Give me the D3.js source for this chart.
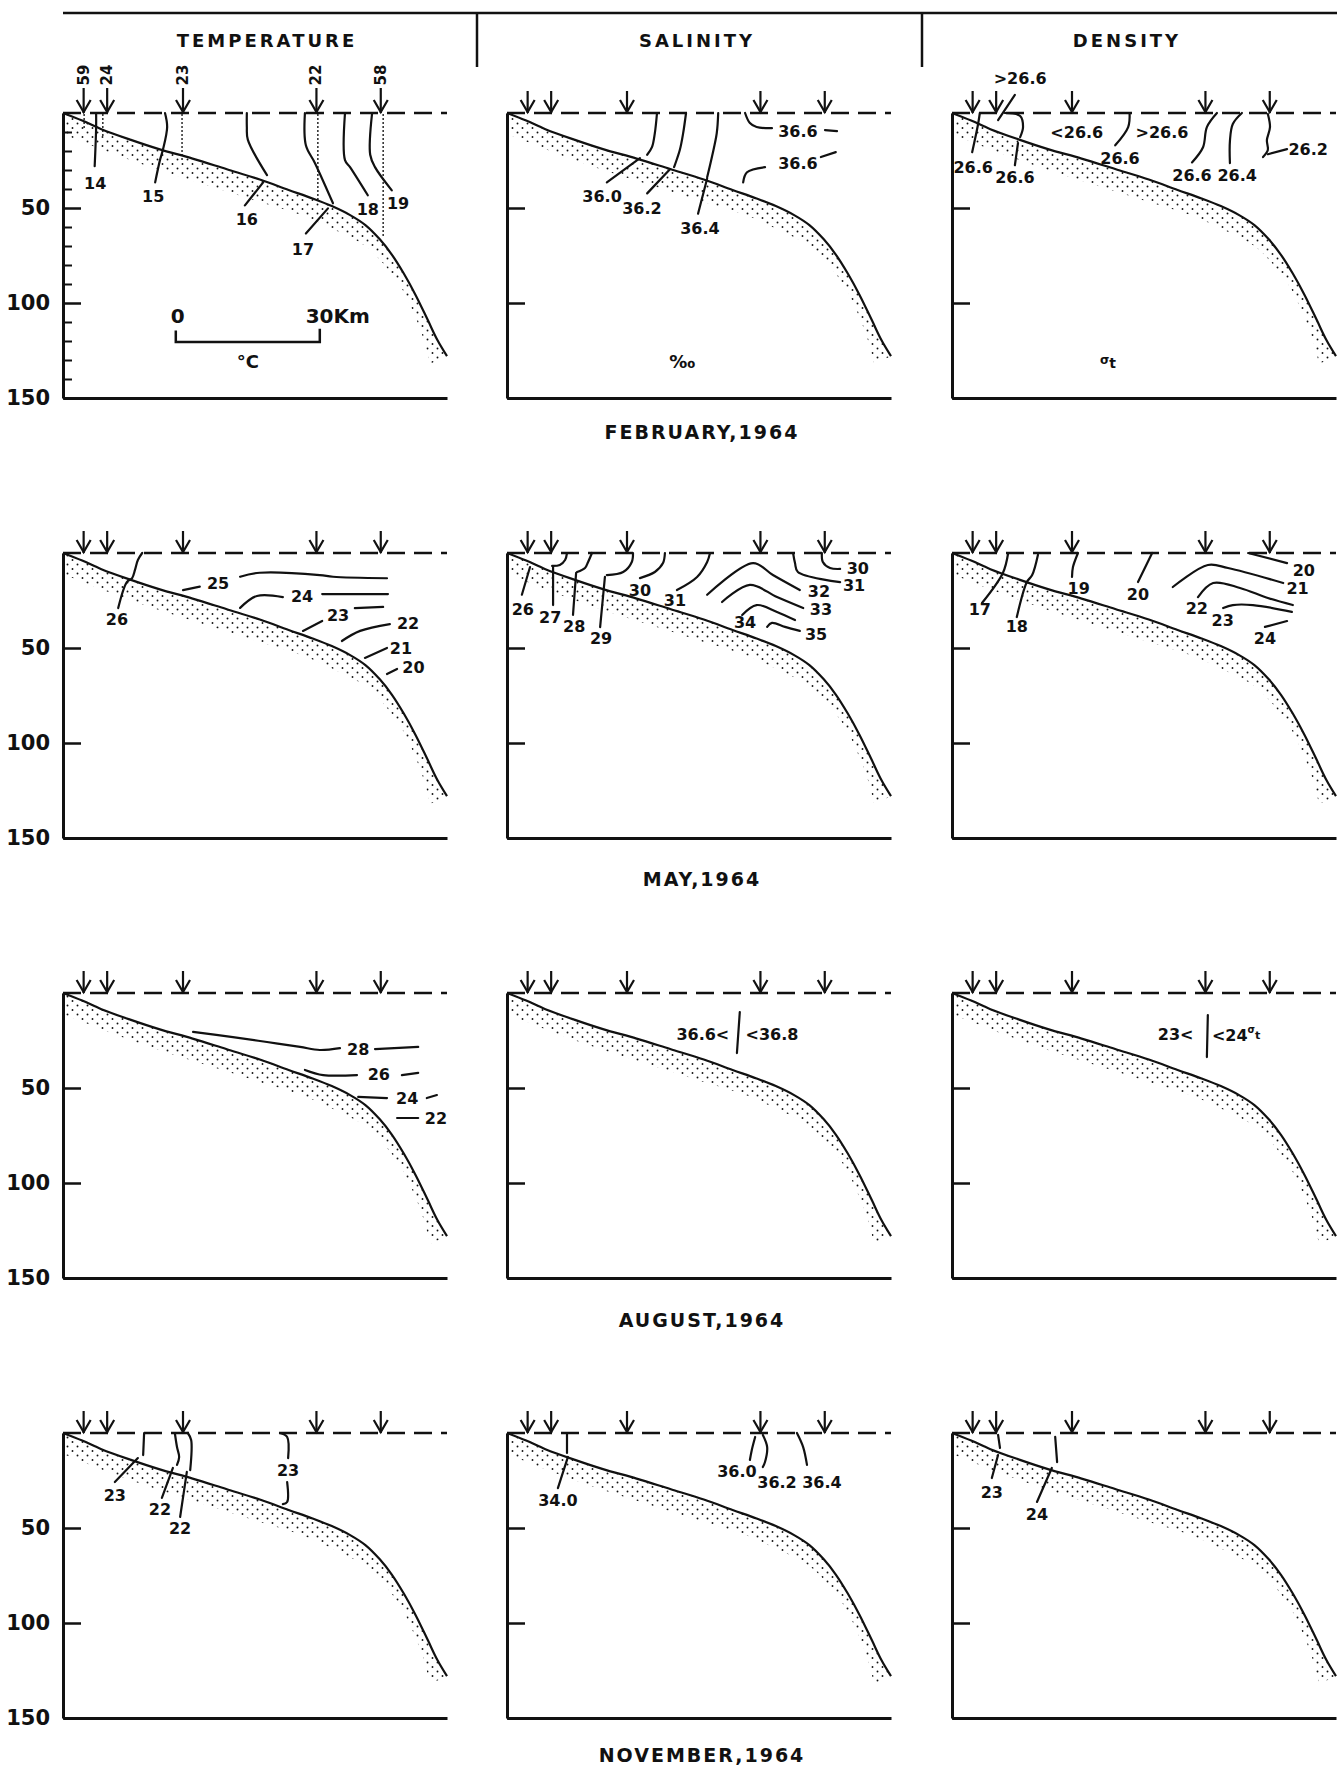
<!DOCTYPE html>
<html><head><meta charset="utf-8">
<script src="https://cdn.jsdelivr.net/npm/d3@7"></script>
<style>
body{margin:0;background:#fff;}
svg{display:block;background:#fff;}
text{font-family:"DejaVu Sans",sans-serif;font-weight:bold;fill:#111;}
</style></head><body>
<svg id="c" width="1337" height="1767"></svg>
<script>
// ---------------- DATA ----------------
const columns = ["TEMPERATURE", "SALINITY", "DENSITY"];
const months = ["FEBRUARY,1964", "MAY,1964", "AUGUST,1964", "NOVEMBER,1964"];
const depthTicks = [50, 100, 150];
const minorDepthTicks = [10, 20, 30, 40, 60, 70, 80, 90, 110, 120, 130, 140];
const stationKm = [4.3, 9.2, 25, 52.8, 66.2];
const stationIds = ["59", "24", "23", "22", "58"];
// bottom profile (km offshore, depth m)
const bottomProfile = [[0,0],[4,4],[8,8.5],[14,14],[20,19],[27,24],[34,29.5],[41,35],[47,40.5],[52,45],[56,49],[60,54],[63,59],[66,66.5],[68.5,74.5],[71,84.5],[73.5,96],[76,109],[78,119.5],[80,128]];
// lower edge of the stippled sediment band (from deep end back to shore)
const stippleEdge = [[76.5,132],[75,118],[73,105],[70.5,92],[67,80],[63,70],[57,62],[50,54],[40,46],[30,38],[20,30],[10,21],[0,11]];
// dotted hydrographic casts, February (km, max depth m)
const febTempCasts = [[4.4,9],[8.3,11.6],[24.8,24.8],[53.1,46],[66.7,65.5]];
const scaleBarKm = [23.5, 53.5];

// isolines: label, line pieces [[km,m],...], label position [km,m]
const febTemp = [
  {v:"14", lines:[[[6.9,0],[6.9,8],[6.6,28]]], at:[6.7,37]},
  {v:"15", lines:[[[21.25,0],[21.7,7.4],[20.8,19.5],[20.2,24.8],[19.2,36.5]]], at:[18.8,44]},
  {v:"16", lines:[[[38.3,0],[38.3,7.4],[38.5,14],[42.5,32.7]],[[41.7,36.5],[37.9,48.6]]], at:[38.3,56]},
  {v:"17", lines:[[[50.4,0],[50.6,17],[52.5,26.4],[56.25,47.5]],[[55.2,50.2],[50.6,63.4]]], at:[50,72]},
  {v:"18", lines:[[[58.75,0],[58.75,24.8],[59.8,28.5],[63.5,43.3]]], at:[63.5,51]},
  {v:"19", lines:[[[64.4,0],[64,22],[65,28.5],[68.5,40.7]]], at:[69.8,47.5]}
];
const febSal = [
  {v:"36.0", lines:[[[31.25,0],[30.8,10.6],[30.2,18],[29.2,22]],[[27.7,23.8],[20.8,36.5]]], at:[19.8,44]},
  {v:"36.2", lines:[[[37.3,0],[36.7,10.6],[36,19.5],[34.8,28.5]],[[34,29.5],[29.2,42.3]]], at:[28.1,50.5]},
  {v:"36.4", lines:[[[44,0],[43.7,10.6],[42.7,23],[41.7,33.8]],[[41.7,34.5],[39.8,53]]], at:[40.2,61]},
  {v:"36.6", lines:[[[49.6,0],[50.6,5.3],[52,7.4],[55.2,8]],[[66.25,9],[68.75,9.5]]], at:[60.6,9.5]},
  {v:"36.6", lines:[[[49.2,36.5],[50,31.2],[53.75,28.5]],[[65.4,23.2],[68.5,20.6]]], at:[60.6,26.4]}
];
const febDens = [
  {v:">26.6", lines:[[[13.1,-9.5],[9.6,3.7]]], at:[14.2,-18.4]},
  {v:"26.6", lines:[[[5.8,0],[5.4,6.3],[4.2,20.6]]], at:[4.4,28.5]},
  {v:"26.6", lines:[[[11,0],[14.2,1.6],[14.8,7.4],[14.2,12.7]],[[13.75,15.8],[13.1,27.5]]], at:[13.1,34]},
  {v:"<26.6", lines:[], at:[26,10]},
  {v:">26.6", lines:[], at:[43.75,10]},
  {v:"26.6", lines:[[[37,0],[36.7,7.4],[34,17]]], at:[35,24]},
  {v:"26.6", lines:[[[55.2,0],[53.1,7.4],[52.3,18],[50,26]]], at:[50,33]},
  {v:"26.4", lines:[[[60.4,0],[58.5,5.8],[57.9,14.8],[57.9,26.4]]], at:[59.4,33]},
  {v:"26.2", lines:[[[65.8,0.5],[66.25,7.4],[65.6,14.3],[65.8,19.5],[64.8,23.2]],[[65.8,21.7],[69.8,19]]], at:[74.2,19]}
];
const mayTemp = [
  {v:"26", lines:[[[16.5,0],[15.6,3.7],[15,8.9],[14.4,13.2],[13.3,15.3],[11.5,29]]], at:[11.25,35]},
  {v:"25", lines:[[[25,19.5],[28.5,17.7]],[[36.9,12.5],[41,10.4],[53.5,11.6],[56.25,12.5],[67.5,13.3]]], at:[32.3,16.3]},
  {v:"24", lines:[[[36.9,28.9],[40.4,22.6],[45.8,23.2]],[[54,21.6],[67.7,21.6]]], at:[49.8,23]},
  {v:"23", lines:[[[50,41],[54,35.8]],[[60.8,29],[66.7,28.4]]], at:[57.3,33]},
  {v:"22", lines:[[[58.1,46.3],[61.9,41],[68.1,37.4]]], at:[71.9,37]},
  {v:"21", lines:[[[62.9,55.2],[67.5,50]]], at:[70.4,50]},
  {v:"20", lines:[[[67.5,63.7],[69.6,61]]], at:[73,60.5]}
];
const maySal = [
  {v:"26", lines:[[[4.8,7.4],[3.1,22]]], at:[3.3,29.5]},
  {v:"27", lines:[[[12.5,0],[12.1,3.7],[11,6.3],[9.4,6.8]],[[9.6,7.4],[9.6,27.4]]], at:[9,34]},
  {v:"28", lines:[[[17.7,0],[16.9,4.7],[16.25,7.9],[14.6,10]],[[14.4,10.5],[13.75,32.6]]], at:[14,38.5]},
  {v:"29", lines:[[[26.25,0],[26,4.7],[24.2,10],[20.8,11.6]],[[20.4,12.6],[19.4,39]]], at:[19.6,45]},
  {v:"30", lines:[[[32.9,0],[32.5,5.3],[30.8,10],[27.7,13.2]]], at:[27.7,19.5]},
  {v:"31", lines:[[[42.3,0],[41.7,4.7],[39.6,12.6],[35.4,19.5]]], at:[35,25]},
  {v:"32", lines:[[[41.7,22],[51.25,5.3],[55.4,11.6],[61,19.5]]], at:[65,20.5]},
  {v:"33", lines:[[[44.8,25.8],[50.6,16.8],[56.25,23.2],[61.7,29]]], at:[65.4,29.5]},
  {v:"34", lines:[[[49,32.6],[52,27.4],[56.25,31],[60,35.3]]], at:[49.6,36.5]},
  {v:"35", lines:[[[54.2,38.9],[55.2,36.8],[57.9,38.9],[61,41]]], at:[64.4,43]},
  {v:"30", lines:[[[65.6,0],[65.8,4.7],[67.3,7.9],[69.4,8.4]]], at:[73.1,8]},
  {v:"31", lines:[[[59.6,0],[60,5.3],[60.6,10],[69.4,15.3]]], at:[72.3,17]}
];
const mayDens = [
  {v:"17", lines:[[[11.7,0],[10.6,10.5],[6.25,26.3]]], at:[5.8,29.5]},
  {v:"18", lines:[[[17.9,1],[16.7,11.6],[15.6,15.3],[13.5,33.7]]], at:[13.5,38.5]},
  {v:"19", lines:[[[26.25,0],[25.2,7.4],[25,12.6]]], at:[26.4,18.5]},
  {v:"20", lines:[[[41.7,0],[38.75,15.3]]], at:[38.75,22]},
  {v:"20", lines:[[[61.7,0],[69.8,5.3]]], at:[73.3,9]},
  {v:"21", lines:[[[46,17.9],[53.3,6.3],[57.5,7.9],[69,15.8]]], at:[72,18.5]},
  {v:"22", lines:[[[51.25,23.2],[54.4,15.8],[60,18.4],[65.8,23.7],[71,27.4]]], at:[51,29]},
  {v:"23", lines:[[[56.5,29],[58.5,27.4],[62.7,27.4],[70.8,31]]], at:[56.4,35.5]},
  {v:"24", lines:[[[65.2,38.9],[69.8,35.8]]], at:[65.2,45]}
];
const augTemp = [
  {v:"28", lines:[[[27.1,20.5],[35.4,23.2],[42.5,25.8],[49.4,28.4],[53.5,30],[57.7,29]],[[65,29.5],[74,28.4]]], at:[61.5,29.5]},
  {v:"26", lines:[[[50.4,40.5],[54.2,43.2],[61.25,43.2]],[[70.6,43.2],[74,42]]], at:[65.8,43]},
  {v:"24", lines:[[[61.5,54.7],[67.5,55.3]],[[75.8,55.3],[77.9,53.7]]], at:[71.7,55.3]},
  {v:"22", lines:[[[69.6,65.8],[74,65.8]]], at:[77.7,66.3]}
];
const augSal = [
  {v:"36.6<", lines:[], at:[40.8,22]},
  {v:"", lines:[[[48.5,10],[47.9,31.6]]], at:null},
  {v:"<36.8", lines:[], at:[55.2,22]}
];
const augDens = [
  {v:"23<", lines:[], at:[46.6,22]},
  {v:"", lines:[[[53.3,11.6],[53.1,33.7]]], at:null},
  {v:"<24", lines:[], at:[59.2,22], sigma:true}
];
const novTemp = [
  {v:"23", lines:[[[16.9,0],[16.7,11.6]],[[15.6,13.2],[10.8,25.8]]], at:[10.8,33]},
  {v:"22", lines:[[[23.3,0],[23.75,7.4],[24.2,12.6],[23.75,16.8]],[[22.9,18.4],[20.6,34.2]]], at:[20.2,40]},
  {v:"22", lines:[[[26,0],[26.7,3.7],[26.5,19.5]],[[25.8,20.5],[24.4,44.2]]], at:[24.4,50]},
  {v:"23", lines:[[[45.2,0],[46.7,2.1],[46.9,13.2]],[[46.7,25.8],[46.7,36.3],[45.8,37.4]]], at:[46.9,19.5]}
];
const novSal = [
  {v:"34.0", lines:[[[12.5,0],[12.5,10.5]],[[12.7,12.6],[10.6,29]]], at:[10.6,35.5]},
  {v:"36.0", lines:[[[51.7,2.1],[51,8.9],[50.6,14.2]]], at:[47.9,20.5]},
  {v:"36.2", lines:[[[53.3,1],[54.2,7.4],[53.75,15.3],[53.3,17.9]]], at:[56.25,26]},
  {v:"36.4", lines:[[[60.4,0],[61.7,7.4],[62.5,16.8]]], at:[65.6,26]}
];
const novDens = [
  {v:"23", lines:[[[9.6,1],[10,7.9]],[[9.6,11.6],[8.3,23.7]]], at:[8.3,31.5]},
  {v:"24", lines:[[[21.5,2],[21.9,15.3]],[[20.8,18.4],[17.7,36.3]]], at:[17.7,43]}
];
const unitLabels = ["°C", "‰", "σt"];
const unitPos = [[38.5,134],[36.5,134],[32.5,134]];

// ---------------- LAYOUT ----------------
const svg = d3.select("#c");
const colX = [63, 507, 952], panelW = 384;
const rowY = [113, 553, 993, 1433], panelH = 285;
const monthY = [439, 886, 1327, 1762];
const headerX = [267, 697, 1127];
const INK = "#111";
const LAB = 16;

const defs = svg.append("defs");
const pat = defs.append("pattern").attr("id", "stip")
  .attr("patternUnits", "userSpaceOnUse").attr("width", 10).attr("height", 9);
pat.append("circle").attr("cx", 2.5).attr("cy", 2).attr("r", 0.95).attr("fill", "#111");
pat.append("circle").attr("cx", 7.5).attr("cy", 6.5).attr("r", 0.95).attr("fill", "#111");

// header
svg.append("line").attr("x1", 63).attr("x2", 1337).attr("y1", 13).attr("y2", 13)
  .attr("stroke", INK).attr("stroke-width", 2.5);
[477, 922].forEach(xx => svg.append("line").attr("x1", xx).attr("x2", xx)
  .attr("y1", 13).attr("y2", 67).attr("stroke", INK).attr("stroke-width", 2.5));
columns.forEach((t, i) => svg.append("text").attr("x", headerX[i]).attr("y", 47)
  .attr("text-anchor", "middle").style("font-size", "18px").style("letter-spacing", "3px").text(t));

const panels = [[febTemp, febSal, febDens], [mayTemp, maySal, mayDens],
                [augTemp, augSal, augDens], [novTemp, novSal, novDens]];

function sigmaText(sel, main, size) {
  sel.append("tspan").text(main);
  sel.append("tspan").text("σ").style("font-size", (size * 0.6) + "px").attr("dy", -size * 0.35);
  sel.append("tspan").text("t").style("font-size", (size * 0.7) + "px").attr("dy", size * 0.35);
}

panels.forEach((row, r) => {
  const y = d3.scaleLinear().domain([0, 150]).range([rowY[r], rowY[r] + panelH]);
  row.forEach((isos, c) => {
    const x = d3.scaleLinear().domain([0, 80]).range([colX[c], colX[c] + panelW]);
    const g = svg.append("g");
    const lineGen = d3.line().x(d => x(d[0])).y(d => y(d[1])).curve(d3.curveCatmullRom.alpha(0.5));

    // stippled band
    const upper = lineGen(bottomProfile);
    const lower = lineGen(stippleEdge).replace(/^M/, "L");
    g.append("path").attr("d", upper + lower + "Z").attr("fill", "url(#stip)").attr("stroke", "none");
    // bottom profile
    g.append("path").attr("d", upper).attr("fill", "none").attr("stroke", INK).attr("stroke-width", 2.2);

    // casts (Feb temperature only)
    if (r === 0 && c === 0) {
      febTempCasts.forEach(cd => g.append("line")
        .attr("x1", x(cd[0])).attr("x2", x(cd[0])).attr("y1", y(0) + 2).attr("y2", y(cd[1]))
        .attr("stroke", INK).attr("stroke-width", 1.8).attr("stroke-linecap", "round")
        .attr("stroke-dasharray", "0,4"));
    }

    // isolines
    isos.forEach(iso => {
      iso.lines.forEach(pts => g.append("path").attr("d", lineGen(pts))
        .attr("fill", "none").attr("stroke", INK).attr("stroke-width", 2.2).attr("stroke-linecap", "round"));
      if (iso.at && iso.v) {
        const t = g.append("text").attr("x", x(iso.at[0])).attr("y", y(iso.at[1]))
          .attr("text-anchor", "middle").attr("dominant-baseline", "central").style("font-size", LAB + "px");
        if (iso.sigma) sigmaText(t, iso.v, LAB); else t.text(iso.v);
      }
    });

    // surface (dashed)
    g.append("line").attr("x1", x(0)).attr("x2", x(80)).attr("y1", y(0)).attr("y2", y(0))
      .attr("stroke", INK).attr("stroke-width", 2.5).attr("stroke-dasharray", "18,9");

    // station arrows
    stationKm.forEach((km, i) => {
      const sx = x(km), sy = y(0);
      const top = (r === 0 && c === 0) ? sy - 25 : sy - 22;
      g.append("line").attr("x1", sx).attr("x2", sx).attr("y1", top).attr("y2", sy)
        .attr("stroke", INK).attr("stroke-width", 2.2);
      g.append("path").attr("d", `M${sx - 7},${sy - 13}L${sx},${sy - 1}L${sx + 7},${sy - 13}`)
        .attr("fill", "none").attr("stroke", INK).attr("stroke-width", 2.2);
      if (r === 0 && c === 0) {
        g.append("text").attr("transform", `translate(${sx + 5},${sy - 38}) rotate(-90)`)
          .attr("text-anchor", "middle").style("font-size", "15px").text(stationIds[i]);
      }
    });

    // axes
    const yAxis = d3.axisLeft(y).tickValues(depthTicks).tickSize(-18).tickSizeOuter(0)
      .tickPadding(13).tickFormat(c === 0 ? d3.format("d") : () => "");
    const ya = g.append("g").attr("transform", `translate(${colX[c]},0)`).call(yAxis);
    ya.select(".domain").attr("stroke", INK).attr("stroke-width", 3);
    ya.selectAll(".tick line").attr("stroke", INK).attr("stroke-width", 2.5);
    ya.selectAll(".tick text").attr("fill", INK).style("font-size", "21px")
      .style("font-family", "DejaVu Sans").style("font-weight", "bold");
    if (r === 0 && c === 0) {
      const ym = d3.axisLeft(y).tickValues(minorDepthTicks).tickSize(-9).tickSizeOuter(0).tickFormat(() => "");
      const ma = g.append("g").attr("transform", `translate(${colX[c]},0)`).call(ym);
      ma.select(".domain").remove();
      ma.selectAll(".tick line").attr("stroke", INK).attr("stroke-width", 2);
    }
    const xAxis = d3.axisBottom(x).tickValues([]).tickSizeOuter(0);
    const xa = g.append("g").attr("transform", `translate(0,${y(150)})`).call(xAxis);
    xa.select(".domain").attr("stroke", INK).attr("stroke-width", 3);

    // units and scale bar (February row)
    if (r === 0) {
      const u = g.append("text").attr("x", x(unitPos[c][0])).attr("y", y(unitPos[c][1]))
        .attr("text-anchor", "middle").style("font-size", "18px");
      if (c === 2) {
        u.append("tspan").text("σ").style("font-size", "12px").attr("dy", -4);
        u.append("tspan").text("t").style("font-size", "14px").attr("dy", 4);
      } else u.text(unitLabels[c]);
      if (c === 0) {
        const bx0 = x(scaleBarKm[0]), bx1 = x(scaleBarKm[1]);
        g.append("path").attr("d", `M${bx0},${y(114.5)}V${y(120.5)}H${bx1}V${y(113.5)}`)
          .attr("fill", "none").attr("stroke", INK).attr("stroke-width", 2.5);
        g.append("text").attr("x", bx0 + 2).attr("y", y(110.5)).attr("text-anchor", "middle")
          .style("font-size", "20px").text("0");
        g.append("text").attr("x", bx1 + 18).attr("y", y(110.5)).attr("text-anchor", "middle")
          .style("font-size", "20px").text("30Km");
      }
    }
  });
  svg.append("text").attr("x", 702).attr("y", monthY[r]).attr("text-anchor", "middle")
    .style("font-size", "19px").style("letter-spacing", "2px").text(months[r]);
});
</script>
</body></html>
